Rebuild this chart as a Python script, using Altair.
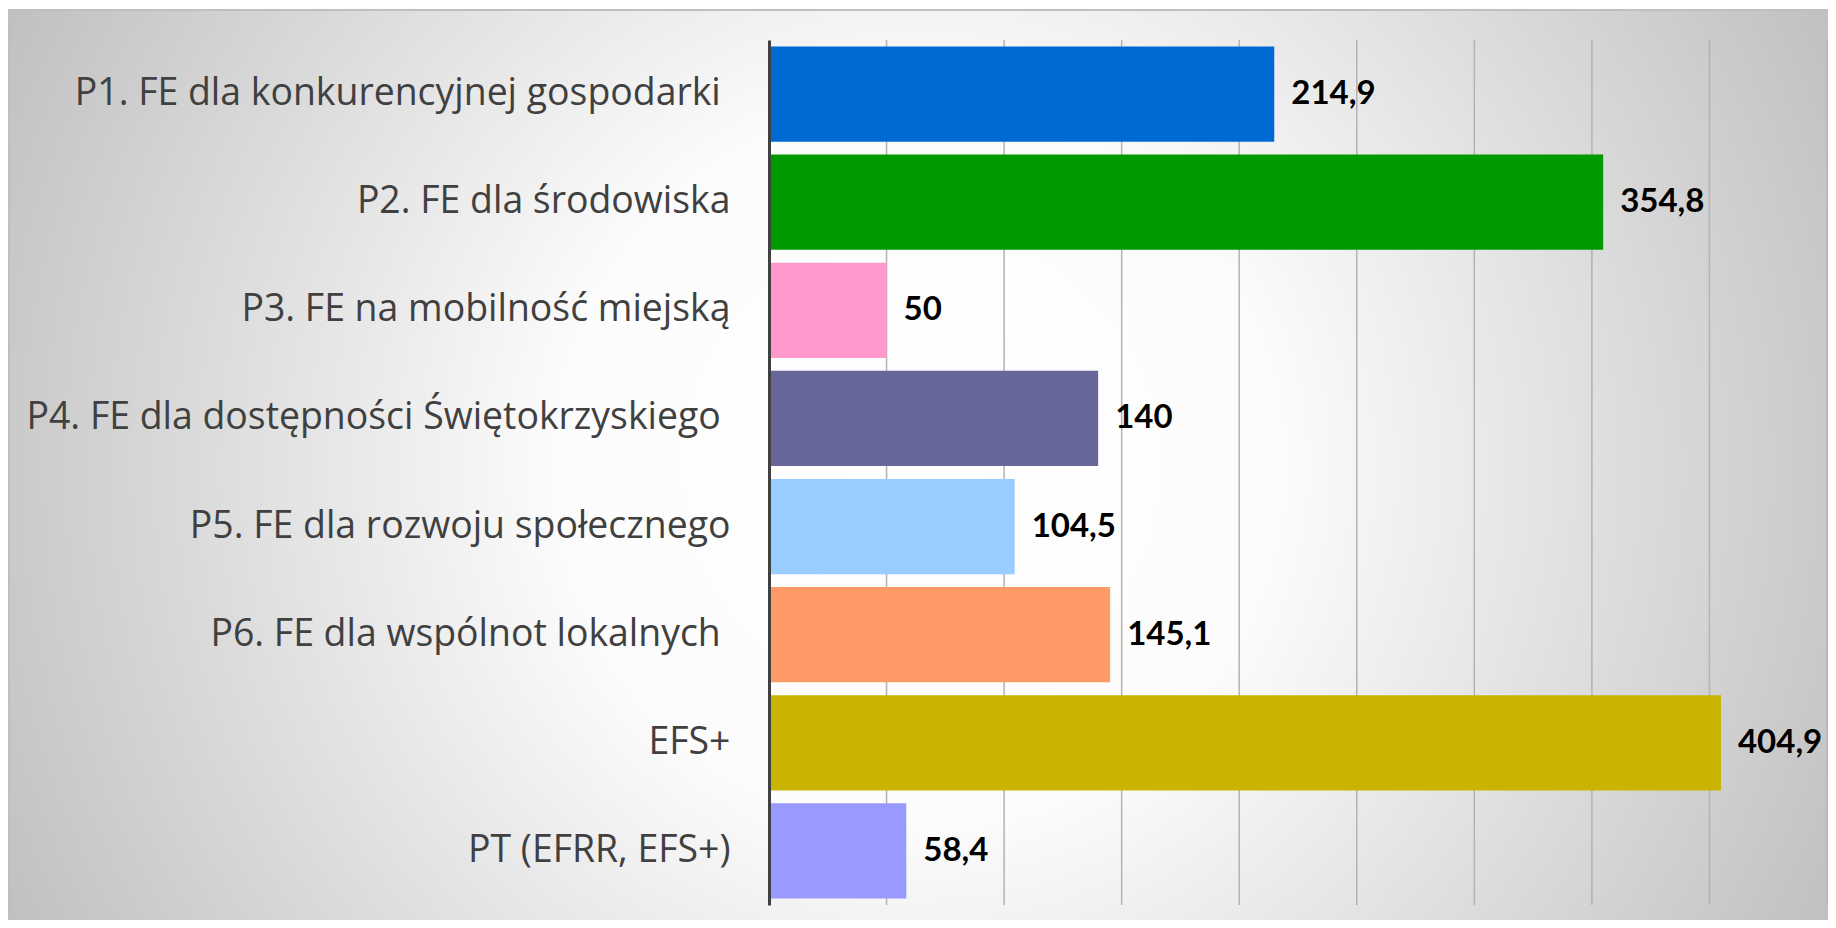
import altair as alt
import pandas as pd

# ---- data ----
# trailing space kept as in the original labels (NBSP + zero-width space so it survives trimming)
categories = [
    "P1. FE dla konkurencyjnej gospodarki\u00a0\u200b",
    "P2. FE dla środowiska",
    "P3. FE na mobilność miejską",
    "P4. FE dla dostępności Świętokrzyskiego\u00a0\u200b",
    "P5. FE dla rozwoju społecznego",
    "P6. FE dla wspólnot lokalnych\u00a0\u200b",
    "EFS+",
    "PT (EFRR, EFS+)",
]
values = [214.9, 354.8, 50, 140, 104.5, 145.1, 404.9, 58.4]
grid_ticks = [50, 100, 150, 200, 250, 300, 350, 400, 450]

# ---- styles ----
bar_colors = ["#006AD4", "#009900", "#FF99CC", "#666699",
              "#99CCFF", "#FF9966", "#C9B400", "#9999FF"]

W, H = 1058, 865
PAD_L, PAD_T, PAD_R, PAD_B = 761, 32, 1, 15

df = pd.DataFrame({"cat": categories, "val": values})
grid_df = pd.DataFrame({"tick": grid_ticks})
bg_df = pd.DataFrame({"one": [0]})

x_scale = alt.Scale(domain=[0, 450], nice=False, zero=True)
y_scale = alt.Scale(paddingInner=0.12, paddingOuter=0.06)

background = alt.Chart(bg_df).mark_rect(
    color={
        "gradient": "radial",
        "x1": 0.5, "y1": 0.5, "r1": 0,
        "x2": 0.5, "y2": 0.5, "r2": 0.56,
        "stops": [
            {"offset": 0, "color": "#ffffff"},
            {"offset": 0.35, "color": "#fcfcfc"},
            {"offset": 1, "color": "#c0c0c0"},
        ],
    },
    stroke="#bfbfbf",
    strokeWidth=2,
).encode(
    x=alt.value(-760),
    x2=alt.value(W + 2),
    y=alt.value(-30),
    y2=alt.value(H + PAD_B + 2),
)

grid = alt.Chart(grid_df).mark_rule(color="#b3b3b3", strokeWidth=1.5).encode(
    x=alt.X("tick:Q", scale=x_scale, axis=None),
    y=alt.value(0),
    y2=alt.value(H),
)

base = alt.Chart(df).encode(
    y=alt.Y(
        "cat:N",
        sort=categories,
        scale=y_scale,
        title=None,
        axis=alt.Axis(
            zindex=1,
            ticks=False,
            grid=False,
            domainColor="#404040",
            domainWidth=3,
            labelFont="Open Sans",
            labelFontSize=37.4,
            labelColor="#404040",
            labelPadding=39,
            labelLimit=900,
        ),
    ),
)

bars = base.mark_bar().encode(
    x=alt.X("val:Q", scale=x_scale, axis=None),
    color=alt.Color("cat:N", scale=alt.Scale(domain=categories, range=bar_colors), legend=None),
)

labels = base.mark_text(
    align="left", baseline="middle", dx=17,
    font="Lato", fontWeight="bold", fontSize=33, color="#000000",
).transform_calculate(
    lab="replace(format(datum.val, '.1~f'), '.', ',')"
).encode(
    x=alt.X("val:Q", scale=x_scale, axis=None),
    text="lab:N",
)

chart = alt.layer(background, grid, bars, labels).properties(
    width=W,
    height=H,
    autosize=alt.AutoSizeParams(type="none"),
    padding={"left": PAD_L, "top": PAD_T, "right": PAD_R, "bottom": PAD_B},
).configure_view(stroke=None)

chart.save("out.html", embed_options={"renderer": "svg", "actions": False})
